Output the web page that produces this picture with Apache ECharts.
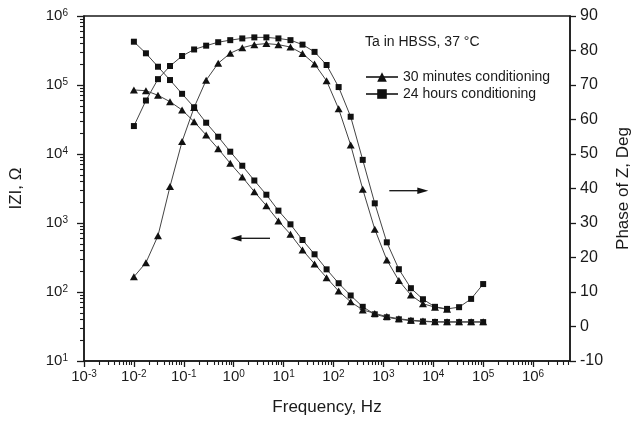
<!DOCTYPE html>
<html><head><meta charset="utf-8">
<script src="https://cdn.jsdelivr.net/npm/echarts@6/dist/echarts.min.js"></script>
<style>html,body{margin:0;padding:0;background:#fff}#c{width:644px;height:422px}</style>
</head><body><div id="c"></div>
<script>
// ---- data ----
const frequencies = [0.01, 0.01743, 0.03039, 0.05297, 0.09237, 0.1610, 0.2807, 0.4894, 0.8532, 1.487,
  2.593, 4.520, 7.880, 13.74, 23.95, 41.75, 72.79, 126.9, 221.2, 385.7,
  672.4, 1172, 2044, 3563, 6212, 10829, 18880, 32910, 57380, 100000];
const zMod30min = [84700, 82700, 70900, 57300, 43400, 29400, 18800, 11900, 7330, 4640,
  2840, 1780, 1070, 686, 406, 255, 161, 103, 72, 55,
  49, 44, 41, 39, 38, 37, 37, 37, 37, 37];
const zMod24h = [424000, 288000, 184000, 118000, 74500, 47500, 28400, 17800, 10800, 6760,
  4130, 2570, 1510, 957, 567, 352, 213, 134, 89, 61,
  47.5, 43, 40.2, 38.4, 37.4, 36.8, 36.6, 36.6, 36.6, 36.6];
const phase30min = [14.4, 18.5, 26.3, 40.6, 53.6, 63.5, 71.4, 76.3, 79.2, 80.8,
  81.7, 82.0, 81.7, 81.0, 79.1, 76.1, 71.2, 63.1, 52.6, 39.8,
  28.2, 19.3, 13.3, 9.1, 6.6, 5.6, 5.0];
const phase24h = [58.1, 65.5, 71.7, 75.5, 78.4, 80.3, 81.4, 82.4, 83.0, 83.5,
  83.8, 83.8, 83.5, 83.0, 81.7, 79.6, 75.8, 69.4, 60.8, 48.3,
  35.7, 24.4, 16.6, 11.1, 7.9, 5.7, 5.1, 5.6, 8.0, 12.3];
const seriesNames = ['30 minutes conditioning', '24 hours conditioning'];
const xTickExponents = [-3, -2, -1, 0, 1, 2, 3, 4, 5, 6];
const yTickExponents = [1, 2, 3, 4, 5, 6];
const phaseTicks = [-10, 0, 10, 20, 30, 40, 50, 60, 70, 80, 90];
const titleText = 'Ta in HBSS, 37 \u00B0C';

// ---- chart ----
const FONT = '"Liberation Sans", Arial, sans-serif';
const INK = '#1a1a1a';
const X_MIN = 0.001, X_MAX = 5.5e6, Y_MIN = 10, Y_MAX = 1e6;
const LX = [Math.log10(X_MIN), Math.log10(X_MAX)];
const LY = [Math.log10(Y_MIN), Math.log10(Y_MAX)];

function pairs(vals) {
  const out = [];
  for (let i = 0; i < vals.length; i++) out.push([frequencies[i], vals[i]]);
  return out;
}
function minorTicks(exps, lo, hi) {
  const out = [];
  const all = [exps[0] - 1].concat(exps);
  all.forEach(e => {
    for (let k = 2; k <= 9; k++) {
      const v = e + Math.log10(k);
      if (v > lo && v < hi) out.push(v);
    }
  });
  return out;
}
const supFmt = v => '10{s|' + Math.round(v) + '}';
const supRich = { s: { fontSize: 10, lineHeight: 10, verticalAlign: 'top', padding: [0, 0, 10, 0], fontFamily: FONT, color: INK } };

const axisLineStyle = { color: INK, width: 1.5 };
const majorTick = { color: INK, width: 1.3 };
const minorTick = { color: INK, width: 1.1 };

const chart = echarts.init(document.getElementById('c'), null, { renderer: 'canvas' });
chart.setOption({
  animation: false,
  backgroundColor: '#fff',
  textStyle: { fontFamily: FONT, color: INK },
  grid: { left: 83, right: 74, top: 16, bottom: 61, show: true, borderColor: INK, borderWidth: 1.5, backgroundColor: 'transparent' },
  title: { text: titleText, left: 365, top: 35, padding: 0, textStyle: { fontSize: 14, fontWeight: 'normal', color: INK, fontFamily: FONT } },
  legend: {
    data: seriesNames, orient: 'vertical', left: 365, top: 70, padding: 0,
    itemWidth: 32, itemHeight: 12, itemGap: 3,
    textStyle: { fontSize: 14, color: INK, fontFamily: FONT, lineHeight: 14 }
  },
  xAxis: [
    { type: 'log', min: X_MIN, max: X_MAX, show: false },
    { type: 'value', min: LX[0], max: LX[1], position: 'bottom',
      name: 'Frequency, Hz', nameLocation: 'middle', nameGap: 38,
      nameTextStyle: { fontSize: 17, color: INK, fontFamily: FONT },
      axisLine: { show: true, onZero: false, lineStyle: axisLineStyle },
      axisTick: { show: true, inside: false, length: 6, customValues: xTickExponents, lineStyle: majorTick },
      axisLabel: { show: true, customValues: xTickExponents, formatter: supFmt, margin: 8, fontSize: 15, lineHeight: 15, color: INK, verticalAlign: 'top', rich: supRich },
      splitLine: { show: false } },
    { type: 'value', min: LX[0], max: LX[1], position: 'bottom',
      axisLine: { show: false, onZero: false },
      axisTick: { show: true, inside: false, length: 4, customValues: minorTicks(xTickExponents, LX[0], LX[1]), lineStyle: minorTick },
      axisLabel: { show: false }, splitLine: { show: false } }
  ],
  yAxis: [
    { type: 'log', min: Y_MIN, max: Y_MAX, show: false },
    { type: 'value', min: phaseTicks[0], max: phaseTicks[phaseTicks.length - 1], interval: 10, position: 'right',
      name: 'Phase of Z, Deg', nameLocation: 'middle', nameGap: 45, nameRotate: 90,
      nameTextStyle: { fontSize: 17, color: INK, fontFamily: FONT },
      axisLine: { show: true, onZero: false, lineStyle: axisLineStyle },
      axisTick: { show: true, inside: false, length: 6, lineStyle: majorTick },
      axisLabel: { show: true, margin: 10, fontSize: 16, color: INK },
      splitLine: { show: false } },
    { type: 'value', min: LY[0], max: LY[1], position: 'left',
      name: 'IZI, \u03A9', nameLocation: 'middle', nameGap: 59, nameRotate: 90,
      nameTextStyle: { fontSize: 17, color: INK, fontFamily: FONT },
      axisLine: { show: true, onZero: false, lineStyle: axisLineStyle },
      axisTick: { show: true, inside: false, length: 7, customValues: yTickExponents, lineStyle: majorTick },
      axisLabel: { show: true, customValues: yTickExponents, formatter: supFmt, margin: 16, fontSize: 15, lineHeight: 15, color: INK, rich: supRich },
      splitLine: { show: false } },
    { type: 'value', min: LY[0], max: LY[1], position: 'left',
      axisLine: { show: false, onZero: false },
      axisTick: { show: true, inside: false, length: 4, customValues: minorTicks(yTickExponents.slice(0, -1), LY[0], LY[1]), lineStyle: minorTick },
      axisLabel: { show: false }, splitLine: { show: false } }
  ],
  series: [
    { name: seriesNames[0], type: 'line', xAxisIndex: 0, yAxisIndex: 0, data: pairs(zMod30min),
      symbol: 'triangle', symbolSize: [8, 7], itemStyle: { color: '#111' }, lineStyle: { color: '#444', width: 1 }, z: 3 },
    { name: seriesNames[1], type: 'line', xAxisIndex: 0, yAxisIndex: 0, data: pairs(zMod24h),
      symbol: 'rect', symbolSize: 6, itemStyle: { color: '#111' }, lineStyle: { color: '#444', width: 1 }, z: 2 },
    { name: seriesNames[0], type: 'line', xAxisIndex: 0, yAxisIndex: 1, data: pairs(phase30min),
      symbol: 'triangle', symbolSize: [8, 7], itemStyle: { color: '#111' }, lineStyle: { color: '#444', width: 1 }, z: 2 },
    { name: seriesNames[1], type: 'line', xAxisIndex: 0, yAxisIndex: 1, data: pairs(phase24h),
      symbol: 'rect', symbolSize: 6, itemStyle: { color: '#111' }, lineStyle: { color: '#444', width: 1 }, z: 3 }
  ],
  graphic: [
    { type: 'line', shape: { x1: 270, y1: 238.3, x2: 238, y2: 238.3 }, style: { stroke: '#111', lineWidth: 1.3 } },
    { type: 'polygon', shape: { points: [[230.5, 238.3], [241.5, 235], [241.5, 241.6]] }, style: { fill: '#111' } },
    { type: 'line', shape: { x1: 389.3, y1: 190.7, x2: 420, y2: 190.7 }, style: { stroke: '#111', lineWidth: 1.3 } },
    { type: 'polygon', shape: { points: [[428.3, 190.7], [417.3, 187.4], [417.3, 194]] }, style: { fill: '#111' } }
  ]
});
</script>
</body></html>
